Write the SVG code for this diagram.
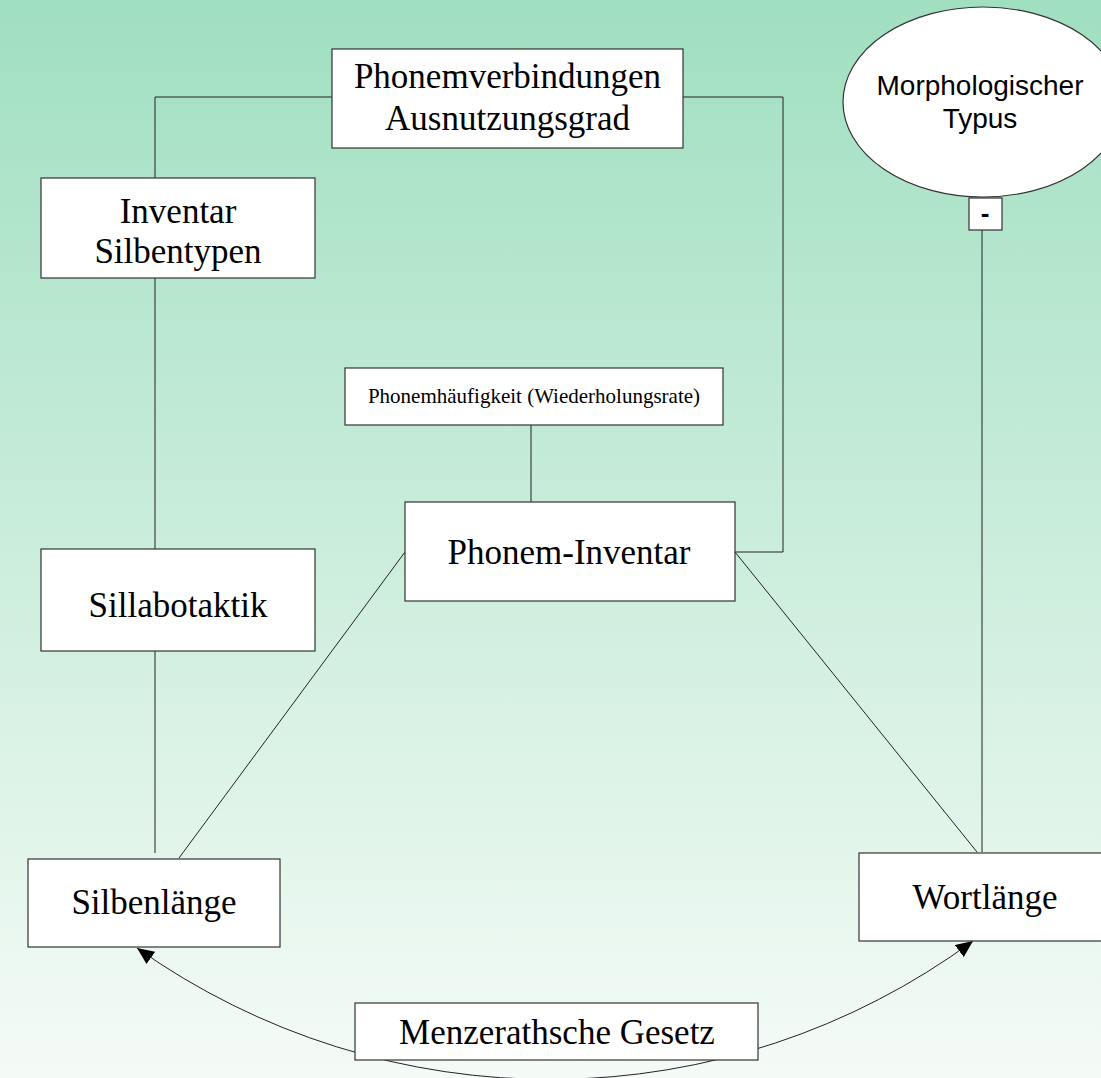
<svg xmlns="http://www.w3.org/2000/svg" width="1101" height="1078" viewBox="0 0 1101 1078">
<defs>
<linearGradient id="bg" x1="0" y1="0" x2="0" y2="1">
<stop offset="0" stop-color="#a0dfc0"/>
<stop offset="1" stop-color="#f5fbf7"/>
</linearGradient>
<marker id="arr" viewBox="0 0 17 15" refX="17" refY="7.5" markerWidth="17" markerHeight="15" markerUnits="userSpaceOnUse" orient="auto-start-reverse">
<path d="M0,0 L17,7.5 L0,15 Z" fill="#000"/>
</marker>
<style>
.box{fill:#fff;stroke:#333;stroke-width:1.2}
.ln{fill:none;stroke:#222;stroke-width:1}
.t{font-family:"Liberation Serif","Times New Roman",serif;font-size:35px;fill:#000;text-anchor:middle}
.s{font-family:"Liberation Sans",Arial,sans-serif;fill:#000;text-anchor:middle}
</style>
</defs>
<rect x="0" y="0" width="1101" height="1078" fill="url(#bg)"/>
<g id="connectors">
<polyline class="ln" points="155,178 155,97 332,97"/>
<polyline class="ln" points="683,97 783,97 783,552 735,552"/>
<line class="ln" x1="155" y1="278" x2="155" y2="549"/>
<line class="ln" x1="155" y1="651" x2="155" y2="853"/>
<line class="ln" x1="531" y1="425" x2="531" y2="502"/>
<line class="ln" x1="405" y1="552" x2="179" y2="858"/>
<line class="ln" x1="735" y1="552" x2="977" y2="852"/>
<line class="ln" x1="982" y1="230" x2="982" y2="852"/>
<path class="ln" d="M137,948 A715,715 0 0 0 973,941" marker-start="url(#arr)" marker-end="url(#arr)"/>
</g>
<g id="phonemverbindungen">
<rect class="box" x="332" y="49" width="351" height="99"/>
<text class="t" x="507.5" y="88">Phonemverbindungen</text>
<text class="t" x="507.5" y="130">Ausnutzungsgrad</text>
</g>
<g id="inventar-silbentypen">
<rect class="box" x="41" y="178" width="274" height="100"/>
<text class="t" x="178" y="223">Inventar</text>
<text class="t" x="178" y="263">Silbentypen</text>
</g>
<g id="sillabotaktik">
<rect class="box" x="41" y="549" width="274" height="102"/>
<text class="t" x="178" y="617">Sillabotaktik</text>
</g>
<g id="silbenlaenge">
<rect class="box" x="28" y="859" width="252" height="88"/>
<text class="t" x="154" y="914">Silbenlänge</text>
</g>
<g id="phonemhaeufigkeit">
<rect class="box" x="345" y="368" width="378" height="57"/>
<text class="t" x="534" y="403" style="font-size:21px">Phonemhäufigkeit (Wiederholungsrate)</text>
</g>
<g id="phonem-inventar">
<rect class="box" x="405" y="502" width="330" height="99"/>
<text class="t" x="569" y="564">Phonem-Inventar</text>
</g>
<g id="morphologischer-typus">
<ellipse cx="983" cy="102" rx="140" ry="95" fill="#fff" stroke="#333" stroke-width="1.2"/>
<text class="s" x="980" y="95" font-size="28">Morphologischer</text>
<text class="s" x="980" y="128" font-size="28">Typus</text>
</g>
<g id="minus">
<rect class="box" x="969" y="198" width="33" height="32"/>
<text class="s" x="985" y="222" font-size="26" font-weight="bold">-</text>
</g>
<g id="wortlaenge">
<rect class="box" x="859" y="853" width="250" height="88"/>
<text class="t" x="985" y="909">Wortlänge</text>
</g>
<g id="menzerath">
<rect class="box" x="355" y="1003" width="403" height="57"/>
<text class="t" x="557" y="1044">Menzerathsche Gesetz</text>
</g>
</svg>
